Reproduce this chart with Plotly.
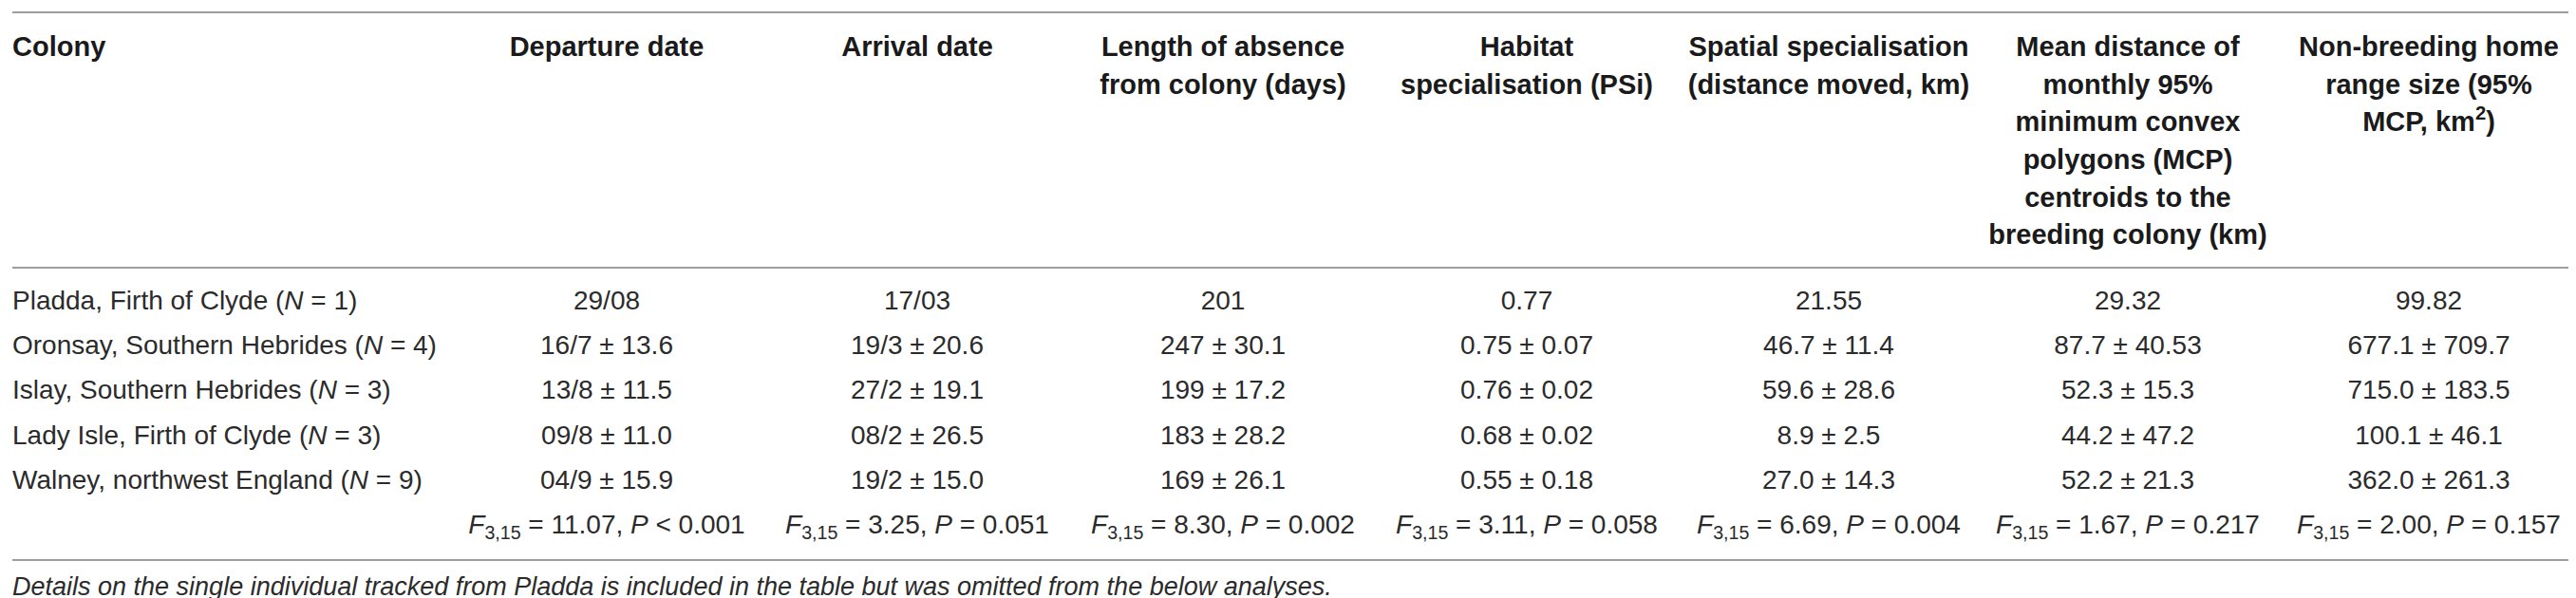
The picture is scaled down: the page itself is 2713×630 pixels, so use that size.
import plotly.graph_objects as go

# table content
headers = [
    "Colony",
    "Departure date",
    "Arrival date",
    "Length of absence<br>from colony (days)",
    "Habitat<br>specialisation (PSi)",
    "Spatial specialisation<br>(distance moved, km)",
    "Mean distance of<br>monthly 95%<br>minimum convex<br>polygons (MCP)<br>centroids to the<br>breeding colony (km)",
    "Non-breeding home<br>range size (95%<br>MCP, km<sup>2</sup>)",
]

colonies = [
    "Pladda, Firth of Clyde (<i>N</i> = 1)",
    "Oronsay, Southern Hebrides (<i>N</i> = 4)",
    "Islay, Southern Hebrides (<i>N</i> = 3)",
    "Lady Isle, Firth of Clyde (<i>N</i> = 3)",
    "Walney, northwest England (<i>N</i> = 9)",
]
departure_date = ["29/08", "16/7 ± 13.6", "13/8 ± 11.5", "09/8 ± 11.0", "04/9 ± 15.9"]
arrival_date = ["17/03", "19/3 ± 20.6", "27/2 ± 19.1", "08/2 ± 26.5", "19/2 ± 15.0"]
absence_days = ["201", "247 ± 30.1", "199 ± 17.2", "183 ± 28.2", "169 ± 26.1"]
habitat_psi = ["0.77", "0.75 ± 0.07", "0.76 ± 0.02", "0.68 ± 0.02", "0.55 ± 0.18"]
distance_moved = ["21.55", "46.7 ± 11.4", "59.6 ± 28.6", "8.9 ± 2.5", "27.0 ± 14.3"]
mcp_centroid_dist = ["29.32", "87.7 ± 40.53", "52.3 ± 15.3", "44.2 ± 47.2", "52.2 ± 21.3"]
home_range = ["99.82", "677.1 ± 709.7", "715.0 ± 183.5", "100.1 ± 46.1", "362.0 ± 261.3"]

# ANOVA results, one per numeric column
f_values = ["11.07", "3.25", "8.30", "3.11", "6.69", "1.67", "2.00"]
p_values = ["< 0.001", "= 0.051", "= 0.002", "= 0.058", "= 0.004", "= 0.217", "= 0.157"]

footnote = ("Details on the single individual tracked from Pladda is included in the table "
            "but was omitted from the below analyses.")

columns = [colonies, departure_date, arrival_date, absence_days, habitat_psi,
           distance_moved, mcp_centroid_dist, home_range]

# layout of the table (pixel space)
W, H = 2713, 630
col_x = [5, 631, 958, 1280, 1600, 1918, 2233, 2550]
header_y0, header_dy = 44, 39.6
row_y0, row_dy = 311, 47.2
rules = [5, 274, 582]
font = "Liberation Sans, Arial, sans-serif"
head_col = "#1a1a1a"
body_col = "#2b2b2b"

fig = go.Figure()

for j, h in enumerate(headers):
    lines = [f"<b>{s}</b>" for s in h.split("<br>")]
    fig.add_trace(go.Scatter(
        x=[col_x[j]] * len(lines),
        y=[header_y0 + k * header_dy for k in range(len(lines))],
        text=lines, mode="text",
        textposition="middle right" if j == 0 else "middle center",
        textfont=dict(family=font, size=29, color=head_col),
        hoverinfo="skip", showlegend=False,
    ))

for j, col in enumerate(columns):
    fig.add_trace(go.Scatter(
        x=[col_x[j]] * len(col),
        y=[row_y0 + i * row_dy for i in range(len(col))],
        text=col, mode="text",
        textposition="middle right" if j == 0 else "middle center",
        textfont=dict(family=font, size=28, color=body_col),
        hoverinfo="skip", showlegend=False,
    ))

stat_text = [f"<i>F</i><sub>3,15</sub> = {f}, <i>P</i> {p}" for f, p in zip(f_values, p_values)]
fig.add_trace(go.Scatter(
    x=col_x[1:],
    y=[row_y0 + len(colonies) * row_dy] * len(stat_text),
    text=stat_text, mode="text", textposition="middle center",
    textfont=dict(family=font, size=28, color=body_col),
    hoverinfo="skip", showlegend=False,
))

fig.add_trace(go.Scatter(
    x=[col_x[0]], y=[612], text=[f"<i>{footnote}</i>"], mode="text",
    textposition="middle right",
    textfont=dict(family=font, size=27, color=body_col),
    hoverinfo="skip", showlegend=False,
))

for y in rules:
    fig.add_shape(type="line", x0=5, x1=2707, y0=y, y1=y, xref="x", yref="y",
                  line=dict(color="#9e9e9e", width=2))

fig.update_layout(
    width=W, height=H,
    margin=dict(l=0, r=0, t=0, b=0),
    paper_bgcolor="white", plot_bgcolor="white",
    xaxis=dict(range=[0, W], visible=False, fixedrange=True),
    yaxis=dict(range=[H, 0], visible=False, fixedrange=True),
)

fig.write_html("out.html")
